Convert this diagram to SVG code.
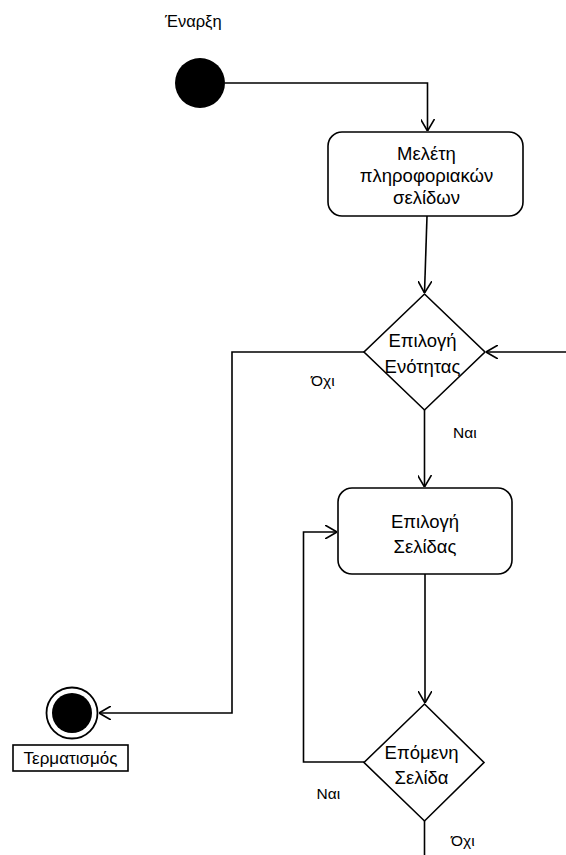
<svg xmlns="http://www.w3.org/2000/svg" width="566" height="855" viewBox="0 0 566 855">
  <style>
    .node { font-family: "Liberation Sans", Arial, sans-serif; font-size: 18.5px; fill: #000; text-anchor: middle; }
    .lbl { font-family: "Liberation Sans", Arial, sans-serif; font-size: 15.5px; fill: #000; }
    .shape { fill: #fff; stroke: #000; stroke-width: 1.6; }
    .edge { fill: none; stroke: #000; stroke-width: 1.6; }
  </style>
  <defs>
    <marker id="open" viewBox="0 0 12 14" refX="12" refY="7" markerWidth="12" markerHeight="14" markerUnits="userSpaceOnUse" orient="auto">
      <path d="M0,0 L12,7 L0,14" fill="none" stroke="#000" stroke-width="1.6"/>
    </marker>
  </defs>
  <rect width="566" height="855" fill="#fff"/>

  <!-- connectors and their guard labels -->
  <g id="connectors">
    <path class="edge" d="M225,83 H427.5 V131" marker-end="url(#open)"/>
    <path class="edge" d="M427,216 L424.5,293" marker-end="url(#open)"/>
    <path class="edge" d="M566,352 H486" marker-end="url(#open)"/>
    <path class="edge" d="M364,352 H232 V713 H99" marker-end="url(#open)"/>
    <path class="edge" d="M424.5,410 V487" marker-end="url(#open)"/>
    <path class="edge" d="M425,574 V703" marker-end="url(#open)"/>
    <path class="edge" d="M364,762 H303.5 V532 H337" marker-end="url(#open)"/>
    <path class="edge" d="M424.5,821 V855"/>
    <text class="lbl" x="311" y="386">Όχι</text>
    <text class="lbl" x="453" y="438">Ναι</text>
    <text class="lbl" x="316.5" y="799">Ναι</text>
    <text class="lbl" x="451" y="846">Όχι</text>
  </g>

  <!-- initial state -->
  <g id="start">
    <circle cx="200" cy="83" r="25" fill="#000"/>
    <text class="lbl" x="165" y="27" style="font-size:16.5px">Έναρξη</text>
  </g>

  <!-- activity: study information pages -->
  <g id="study">
    <rect class="shape" x="328" y="132" width="195" height="84" rx="14"/>
    <text class="node" x="426.5" y="160">Μελέτη</text>
    <text class="node" x="426.5" y="182">πληροφοριακών</text>
    <text class="node" x="426.5" y="203.5">σελίδων</text>
  </g>

  <!-- decision: choose section -->
  <g id="choose-section">
    <polygon class="shape" points="424.5,294 485,352 424.5,410 364,352"/>
    <text class="node" x="422.5" y="347">Επιλογή</text>
    <text class="node" x="422.5" y="372.5">Ενότητας</text>
  </g>

  <!-- activity: choose page -->
  <g id="choose-page">
    <rect class="shape" x="338" y="488" width="174" height="86" rx="14"/>
    <text class="node" x="425" y="528">Επιλογή</text>
    <text class="node" x="425" y="553">Σελίδας</text>
  </g>

  <!-- decision: next page -->
  <g id="next-page">
    <polygon class="shape" points="424.5,704 484,762.5 424.5,821 364,762.5"/>
    <text class="node" x="421.5" y="759">Επόμενη</text>
    <text class="node" x="421.5" y="784">Σελίδα</text>
  </g>

  <!-- final state -->
  <g id="end">
    <circle cx="72" cy="713" r="25.5" fill="#fff" stroke="#000" stroke-width="1.8"/>
    <circle cx="72" cy="713" r="20" fill="#000"/>
    <rect class="shape" x="13" y="745" width="115" height="26"/>
    <text class="lbl" x="70.5" y="764" style="font-size:17px;text-anchor:middle">Τερματισμός</text>
  </g>
</svg>
